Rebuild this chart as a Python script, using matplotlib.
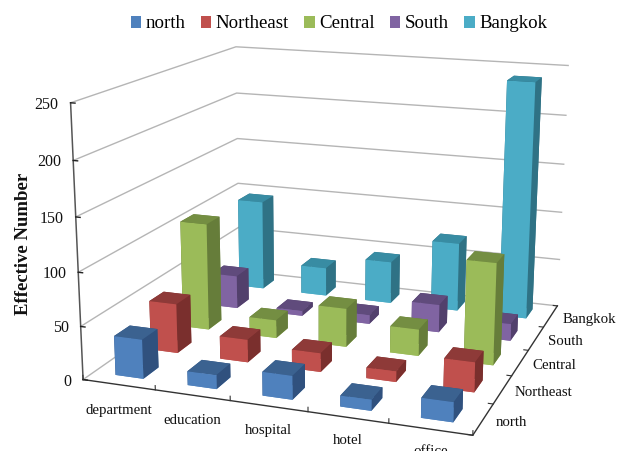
import numpy as np
import matplotlib
matplotlib.use('Agg')
import matplotlib.pyplot as plt
from matplotlib.patches import Patch
from mpl_toolkits.mplot3d import proj3d

plt.rcParams['font.family'] = ['Liberation Serif', 'DejaVu Serif']

# Data
categories = ['department', 'education', 'hospital', 'hotel', 'office']
series = ['north', 'Northeast', 'Central', 'South', 'Bangkok']
north = [37, 13, 22, 10, 18]
northeast = [48, 22, 18, 10, 28]
central = [107, 18, 38, 26, 98]
south = [34, 5, 9, 28, 17]
bangkok = [95, 30, 44, 71, 240]
values = [north, northeast, central, south, bangkok]
z_ticks = [0, 50, 100, 150, 200, 250]

# front, top and side colour of each series
front_colors = ['#4F81BD', '#C0504D', '#9BBB59', '#8064A2', '#4BACC6']
top_colors = ['#3B6290', '#8E3A38', '#748E42', '#604B7C', '#388CA3']
side_colors = ['#30517E', '#7A2F2D', '#667D3A', '#52406C', '#2F7285']

BAR_X = 0.39
BAR_Y = 0.43

fig = plt.figure(figsize=(6.19, 4.51), dpi=100)
ax = fig.add_axes([0.067, -0.1332, 0.9333, 1.2809], projection='3d', computed_zorder=False)
ax.set_xlim(0, 5, view_margin=0)
ax.set_ylim(0, 5, view_margin=0)
ax.set_zlim(0, 250, view_margin=0)
ax.view_init(14.929, -70.488, -0.202)
ax.set_proj_type('persp', focal_length=0.46)
ax.set_box_aspect((1.428, 1.4, 1))
ax.set_axis_off()

# Walls
for z in z_ticks:
    ax.plot([0, 0, 5], [0, 5, 5], [z, z, z], color='#b5b5b5', lw=1.0, zorder=1)

# Axis lines and ticks
ax.plot([0, 0], [0, 0], [0, 250], color='#555555', lw=1.1, zorder=2)
ax.plot([0, 5, 5], [0, 0, 5], [0, 0, 0], color='#333333', lw=1.0, zorder=2)
for z in z_ticks:
    ax.plot([0, 0.06], [0, 0], [z, z], color='#222222', lw=1.0, zorder=2)
for i in range(6):
    ax.plot([i, i], [0, 0], [0, 4], color='#333333', lw=0.8, zorder=2)
for j in range(6):
    ax.plot([5, 4.94], [j, j], [0, 0], color='#333333', lw=0.8, zorder=2)

# Bars, back row first
order = 10
for j in reversed(range(len(series))):
    for i in range(len(categories)):
        face_colors = [front_colors[j], top_colors[j], front_colors[j],
                       side_colors[j], side_colors[j], side_colors[j]]
        ax.bar3d(i + 0.5 - BAR_X/2, j + 0.5 - BAR_Y/2, 0, BAR_X, BAR_Y, values[j][i],
                 color=face_colors, shade=False, edgecolor='none', zorder=order)
        order += 1

# Tick labels hang off the projected axis positions
M = ax.get_proj()

def label(text, x, y, z, dx, dy, ha, size=10.7):
    u, v, _ = proj3d.proj_transform(x, y, z, M)
    ax.annotate(text, (u, v), xytext=(dx, dy), textcoords='offset pixels',
                ha=ha, va='center', fontsize=size, color='#111111', zorder=200,
                annotation_clip=False)

for i, name in enumerate(categories):
    label(name, i + 0.5, 0, 0, 0, -26 + i, 'center')
for j, name in enumerate(series):
    label(name, 5, j + 0.5, 0, 12, -3, 'left')
for z in z_ticks:
    label(str(z), 0, 0, z, -12, -2, 'right', size=11.5)

fig.text(24/619, 1 - 244/451, 'Effective Number', rotation=90, ha='center', va='center',
         fontsize=13.5, fontweight='bold', color='#111111')

handles = [Patch(facecolor=c) for c in front_colors]
fig.legend(handles, series, loc='center', bbox_to_anchor=(339/619, 1 - 24/451), ncol=5,
           frameon=False, fontsize=13.6, handlelength=0.55, handleheight=0.55,
           handletextpad=0.25, columnspacing=0.8, borderpad=0)

fig.savefig('out.png', dpi=100)
